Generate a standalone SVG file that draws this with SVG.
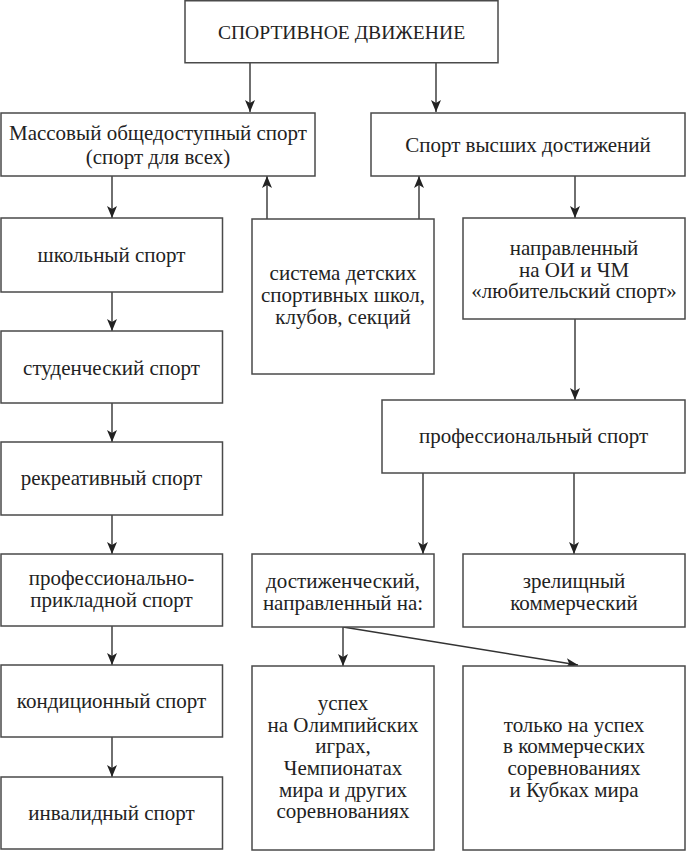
<svg xmlns="http://www.w3.org/2000/svg" width="686" height="851" viewBox="0 0 686 851">
<style>
.b{fill:#fff;stroke:#4a4a4a;stroke-width:1.5}
.t{font-family:"Liberation Serif","DejaVu Serif",serif;font-size:21px;fill:#222;text-anchor:middle}
.h{font-size:19.6px}
.c{stroke:#333;stroke-width:1.4;fill:none;marker-end:url(#a)}
</style>
<defs>
<marker id="a" viewBox="0 0 12 10" refX="12" refY="5" markerWidth="12" markerHeight="10" markerUnits="userSpaceOnUse" orient="auto">
<path d="M0,0 L12,5 L0,10 L3,5 z" fill="#222"/>
</marker>
</defs>
<rect width="686" height="851" fill="#fff"/>
<g id="connectors">
<line class="c" x1="250" y1="63" x2="250" y2="112"/>
<line class="c" x1="436" y1="63" x2="436" y2="112"/>
<line class="c" x1="112" y1="176" x2="112" y2="218"/>
<line class="c" x1="267" y1="219" x2="267" y2="176"/>
<line class="c" x1="419" y1="219" x2="419" y2="176"/>
<line class="c" x1="575" y1="176" x2="575" y2="218"/>
<line class="c" x1="575" y1="319" x2="575" y2="400"/>
<line class="c" x1="423" y1="473" x2="423" y2="554"/>
<line class="c" x1="574" y1="473" x2="574" y2="554"/>
<line class="c" x1="112" y1="292" x2="112" y2="331"/>
<line class="c" x1="112" y1="403" x2="112" y2="442"/>
<line class="c" x1="112" y1="515" x2="112" y2="554"/>
<line class="c" x1="112" y1="626" x2="112" y2="665"/>
<line class="c" x1="112" y1="737" x2="112" y2="777"/>
<line class="c" x1="343" y1="627" x2="343" y2="666"/>
<line class="c" x1="343" y1="627" x2="578" y2="665"/>
</g>
<g id="n-top"><rect class="b" x="185" y="0.75" width="313" height="62"/><text class="t h" x="341.5" y="39">СПОРТИВНОЕ ДВИЖЕНИЕ</text></g>
<g id="n-mass"><rect class="b" x="1" y="113" width="314" height="63"/><text class="t" x="158" y="140">Массовый общедоступный спорт</text><text class="t" x="158" y="164">(спорт для всех)</text></g>
<g id="n-high"><rect class="b" x="371" y="113" width="314" height="63"/><text class="t" x="528" y="152">Спорт высших достижений</text></g>
<g id="n-school"><rect class="b" x="1" y="218" width="221.5" height="74"/><text class="t" x="111.5" y="262">школьный спорт</text></g>
<g id="n-student"><rect class="b" x="1" y="331" width="221.5" height="72"/><text class="t" x="111.5" y="375">студенческий спорт</text></g>
<g id="n-recr"><rect class="b" x="1" y="442" width="221.5" height="73"/><text class="t" x="111.5" y="485">рекреативный спорт</text></g>
<g id="n-prikl"><rect class="b" x="1" y="554" width="221.5" height="72"/><text class="t" x="111.5" y="585">профессионально-</text><text class="t" x="111.5" y="607">прикладной спорт</text></g>
<g id="n-cond"><rect class="b" x="1" y="665" width="221.5" height="72"/><text class="t" x="111.5" y="708">кондиционный спорт</text></g>
<g id="n-inv"><rect class="b" x="1" y="777" width="221.5" height="72"/><text class="t" x="111.5" y="820">инвалидный спорт</text></g>
<g id="n-dss"><rect class="b" x="252" y="219" width="182" height="155"/><text class="t" x="343" y="280">система детских</text><text class="t" x="343" y="302">спортивных школ,</text><text class="t" x="343" y="324">клубов, секций</text></g>
<g id="n-amat"><rect class="b" x="463" y="218" width="222" height="101"/><text class="t" x="574" y="255">направленный</text><text class="t" x="574" y="277">на ОИ и ЧМ</text><text class="t" x="574" y="298">«любительский спорт»</text></g>
<g id="n-prof"><rect class="b" x="382" y="400" width="303" height="73"/><text class="t" x="533.5" y="443">профессиональный спорт</text></g>
<g id="n-dost"><rect class="b" x="252" y="554" width="182" height="73"/><text class="t" x="343" y="588">достиженческий,</text><text class="t" x="343" y="610">направленный на:</text></g>
<g id="n-zrel"><rect class="b" x="463" y="554" width="222" height="73"/><text class="t" x="574" y="588">зрелищный</text><text class="t" x="574" y="610">коммерческий</text></g>
<g id="n-usp"><rect class="b" x="252" y="666" width="182" height="184"/><text class="t" x="343" y="710">успех</text><text class="t" x="343" y="732">на Олимпийских</text><text class="t" x="343" y="753">играх,</text><text class="t" x="343" y="775">Чемпионатах</text><text class="t" x="343" y="797">мира и других</text><text class="t" x="343" y="818">соревнованиях</text></g>
<g id="n-only"><rect class="b" x="463" y="666" width="222" height="184"/><text class="t" x="574" y="732">только на успех</text><text class="t" x="574" y="753">в коммерческих</text><text class="t" x="574" y="775">соревнованиях</text><text class="t" x="574" y="797">и Кубках мира</text></g>
</svg>
